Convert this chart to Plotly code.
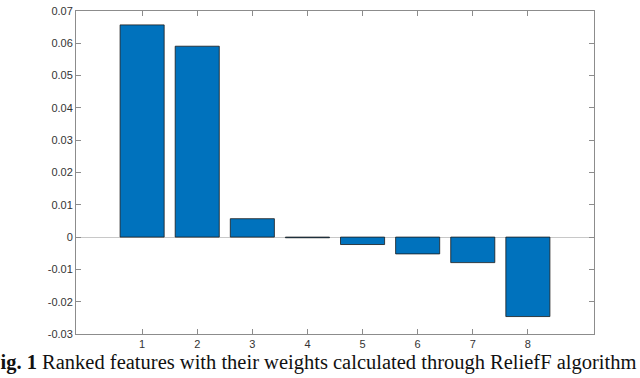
import plotly.graph_objects as go

features = [1, 2, 3, 4, 5, 6, 7, 8]
weights = [0.0657, 0.0591, 0.0057, -0.0002, -0.0023, -0.0052, -0.0079, -0.0246]
ytick_vals = [-0.03, -0.02, -0.01, 0, 0.01, 0.02, 0.03, 0.04, 0.05, 0.06, 0.07]
ytick_text = ["-0.03", "-0.02", "-0.01", "0", "0.01", "0.02", "0.03", "0.04", "0.05", "0.06", "0.07"]
caption = "<b>Fig. 1</b> Ranked features with their weights calculated through ReliefF algorithm"

fig = go.Figure()
fig.add_trace(go.Bar(
    x=features, y=weights, width=0.8,
    marker=dict(color="#0072BD", line=dict(color="#1a1a1a", width=0.8)),
))

axis_common = dict(
    showline=True, linecolor="#8c8c8c", linewidth=1, mirror="ticks",
    ticks="inside", ticklen=5, tickcolor="#8c8c8c", showgrid=False,
    ticklabeloverflow="allow",
    tickfont=dict(family="Liberation Sans, Arial, sans-serif", size=11, color="#333333"),
)

fig.update_layout(
    width=640, height=378,
    margin=dict(l=76, r=46, t=5, b=44),
    paper_bgcolor="white", plot_bgcolor="white",
    showlegend=False,
    xaxis=dict(range=[-0.2, 9.2], tickvals=features, zeroline=False, **axis_common),
    yaxis=dict(range=[-0.03, 0.07000001], tickvals=ytick_vals, ticktext=ytick_text,
               zeroline=True, zerolinecolor="#c8c8c8", zerolinewidth=1, **axis_common),
)

fig.add_annotation(
    text=caption, xref="paper", yref="paper", x=(638 - 76) / 518, y=-0.045,
    xanchor="right", yanchor="top", showarrow=False,
    font=dict(family="Liberation Serif, Times New Roman, serif", size=20.5, color="#111111"),
)

fig.write_html("out.html", config={"displayModeBar": False},
               post_script="document.body.style.margin='0px';")
